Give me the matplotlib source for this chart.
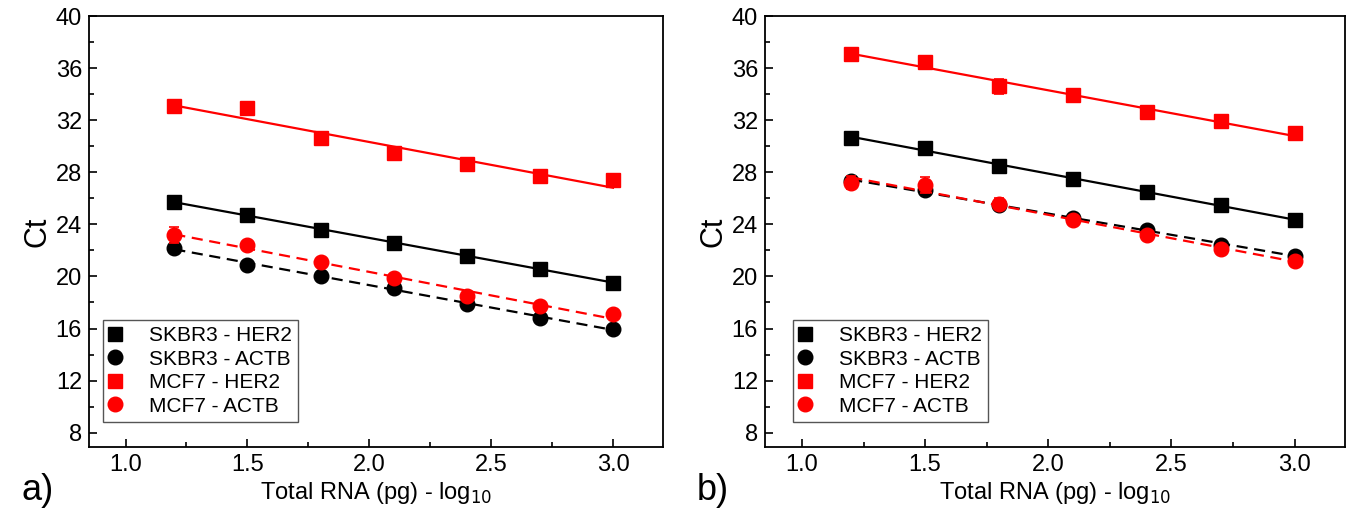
import numpy as np
import matplotlib
matplotlib.use("Agg")
import matplotlib.pyplot as plt
from matplotlib.ticker import MultipleLocator

plt.rcParams['font.family'] = ['Liberation Sans', 'DejaVu Sans']

x = [1.2, 1.5, 1.8, 2.1, 2.4, 2.7, 3.0]
labels = ["SKBR3 - HER2", "SKBR3 - ACTB", "MCF7 - HER2", "MCF7 - ACTB"]

# Panel a
a_skbr3_her2 = [25.7, 24.7, 23.6, 22.6, 21.6, 20.6, 19.5]
a_skbr3_actb = [22.2, 20.9, 20.0, 19.1, 17.9, 16.8, 16.0]
a_mcf7_her2 = [33.1, 32.9, 30.6, 29.5, 28.6, 27.7, 27.4]
a_mcf7_actb = [23.2, 22.4, 21.1, 19.9, 18.5, 17.7, 17.1]
a_err_skbr3_her2 = [0.2, 0.2, 0.2, 0.2, 0.2, 0.2, 0.2]
a_err_skbr3_actb = [0.2, 0.2, 0.2, 0.2, 0.2, 0.2, 0.2]
a_err_mcf7_her2 = [0.2, 0.3, 0.3, 0.2, 0.2, 0.2, 0.2]
a_err_mcf7_actb = [0.6, 0.2, 0.2, 0.2, 0.2, 0.2, 0.2]

# Panel b
b_skbr3_her2 = [30.6, 29.9, 28.5, 27.5, 26.5, 25.5, 24.3]
b_skbr3_actb = [27.3, 26.6, 25.5, 24.5, 23.6, 22.4, 21.6]
b_mcf7_her2 = [37.1, 36.5, 34.6, 33.9, 32.6, 31.9, 31.0]
b_mcf7_actb = [27.2, 27.0, 25.6, 24.3, 23.2, 22.1, 21.2]
b_err_skbr3_her2 = [0.2, 0.2, 0.2, 0.2, 0.2, 0.2, 0.2]
b_err_skbr3_actb = [0.3, 0.3, 0.2, 0.2, 0.2, 0.2, 0.2]
b_err_mcf7_her2 = [0.3, 0.3, 0.6, 0.3, 0.3, 0.3, 0.3]
b_err_mcf7_actb = [0.5, 0.6, 0.4, 0.2, 0.2, 0.2, 0.2]

fig = plt.figure(figsize=(13.56, 5.18), dpi=100)
ax_a = fig.add_axes([89/1356, 1-447/518, (663-89)/1356, (447-16)/518])
ax_b = fig.add_axes([765/1356, 1-447/518, (1345-765)/1356, (447-16)/518])

def draw(ax, ys, errs, tag, legx):
    styles = [("black", "s", "-"), ("black", "o", "--"), ("red", "s", "-"), ("red", "o", "--")]
    handles = []
    for y, e, (c, m, ls), lab in zip(ys, errs, styles, labels):
        xa = np.array(x); ya = np.array(y)
        k, b = np.polyfit(xa, ya, 1)
        xf = np.array([x[0], x[-1]])
        if ls == "--":
            ax.plot(xf, k*xf + b, color=c, lw=1.6, ls=(0, (5, 3)))
        else:
            ax.plot(xf, k*xf + b, color=c, lw=1.6, ls='-')
        ax.errorbar(x, y, yerr=e, fmt='none', ecolor=c, elinewidth=1.2, capsize=3.5, capthick=1.2)
        h, = ax.plot(x, y, ls='none', marker=m, color=c, markersize=9.5 if m == 's' else 10.5, label=lab)
        handles.append(h)
    ax.set_xlim(0.85, 3.205)
    ax.set_ylim(6.9, 40)
    ax.xaxis.set_major_locator(MultipleLocator(0.5))
    ax.xaxis.set_minor_locator(MultipleLocator(0.25))
    ax.yaxis.set_major_locator(MultipleLocator(4))
    ax.yaxis.set_minor_locator(MultipleLocator(2))
    ax.set_yticks(np.arange(8, 41, 4))
    ax.xaxis.set_major_formatter(matplotlib.ticker.FormatStrFormatter('%.1f'))
    ax.tick_params(which='both', direction='in', top=False, right=False, labelsize=17)
    ax.tick_params(which='major', length=6, width=1.2, pad=5)
    ax.tick_params(which='minor', length=3.5, width=1.2)
    for s in ax.spines.values():
        s.set_linewidth(1.3)
    ax.set_ylabel("Ct", fontsize=22, labelpad=2)
    ax.set_xlabel("Total RNA (pg) - log$_{10}$", fontsize=17, labelpad=3)
    leg = ax.legend(handles=handles, loc='lower left', bbox_to_anchor=(legx, 0.058),
                    borderaxespad=0, fontsize=15, frameon=True, fancybox=False,
                    edgecolor='#555555', handletextpad=1.3, borderpad=0.3,
                    labelspacing=0.22, handlelength=0.6, framealpha=1)
    leg.get_frame().set_linewidth(1.0)
    ax.text(-0.118, -0.1, tag, transform=ax.transAxes, fontsize=26, ha='left', va='center')

draw(ax_a, [a_skbr3_her2, a_skbr3_actb, a_mcf7_her2, a_mcf7_actb],
     [a_err_skbr3_her2, a_err_skbr3_actb, a_err_mcf7_her2, a_err_mcf7_actb], "a)", 0.024)
draw(ax_b, [b_skbr3_her2, b_skbr3_actb, b_mcf7_her2, b_mcf7_actb],
     [b_err_skbr3_her2, b_err_skbr3_actb, b_err_mcf7_her2, b_err_mcf7_actb], "b)", 0.048)

fig.savefig("out.png", dpi=100)
